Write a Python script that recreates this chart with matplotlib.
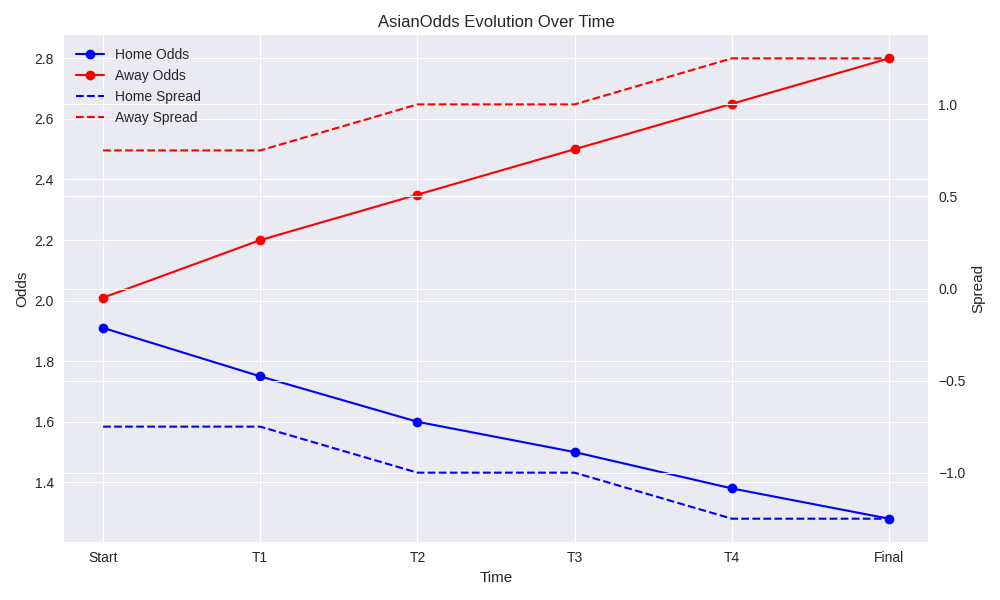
import matplotlib
matplotlib.use("Agg")
import matplotlib.pyplot as plt

# odds and spreads at each checkpoint
stages = ["Start", "T1", "T2", "T3", "T4", "Final"]
home_odds = [1.91, 1.75, 1.60, 1.50, 1.38, 1.28]
away_odds = [2.01, 2.20, 2.35, 2.50, 2.65, 2.80]
home_spread = [-0.75, -0.75, -1.0, -1.0, -1.25, -1.25]
away_spread = [0.75, 0.75, 1.0, 1.0, 1.25, 1.25]

plt.style.use("seaborn-v0_8-darkgrid")

fig, ax = plt.subplots(figsize=(10, 6), dpi=100)
ax.plot(stages, home_odds, "o-", color="blue", label="Home Odds")
ax.plot(stages, away_odds, "o-", color="red", label="Away Odds")
ax.set_xlabel("Time", fontsize=11)
ax.set_ylabel("Odds", fontsize=11)

ax2 = ax.twinx()
ax2.plot(stages, home_spread, "--", color="blue", label="Home Spread")
ax2.plot(stages, away_spread, "--", color="red", label="Away Spread")
ax2.set_ylabel("Spread", fontsize=11)

# hidden ticks, but keep the usual gap between labels and the axes
ax.tick_params(length=3.5, color=(0, 0, 0, 0))
ax2.tick_params(length=3.5, color=(0, 0, 0, 0))

# combine legends from both axes
h1, l1 = ax.get_legend_handles_labels()
h2, l2 = ax2.get_legend_handles_labels()
ax.legend(h1 + h2, l1 + l2, loc="upper left")

ax.set_title("AsianOdds Evolution Over Time")
fig.tight_layout()
fig.savefig("out.png")
